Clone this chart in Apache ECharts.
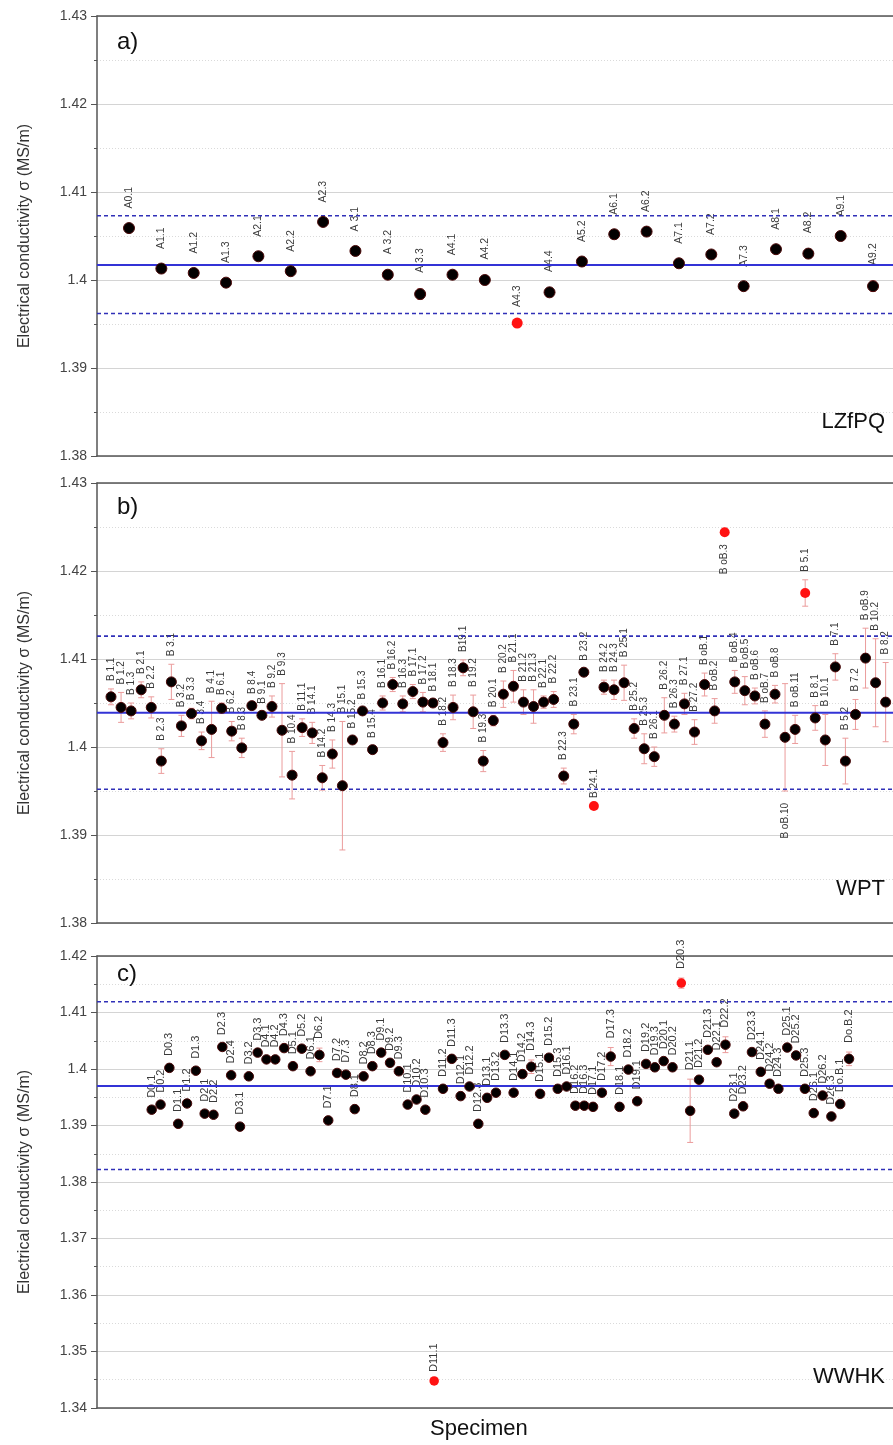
<!DOCTYPE html>
<html lang="en">
<head>
<meta charset="UTF-8">
<title>Electrical conductivity per specimen</title>
<style>
  html, body { margin: 0; padding: 0; background: #fff; }
  #main { width: 893px; height: 1445px; }
</style>
</head>
<body>
<div id="main"></div>
<script src="https://cdn.jsdelivr.net/npm/echarts@6/dist/echarts.min.js"></script>
<script>
// a) LZfPQ
const labelsA = ['A0.1','A1.1','A1.2','A1.3','A2.1','A2.2','A2.3','A 3.1','A 3.2','A 3.3','A4.1','A4.2',
  'A4.3','A4.4','A5.2','A6.1','A6.2','A7.1','A7.2','A7.3','A8.1','A8.2','A9.1','A9.2'];
const valuesA = [1.4059,1.4013,1.4008,1.3997,1.4027,1.4010,1.4066,1.4033,1.4006,1.3984,1.4006,1.4000,
  1.3951,1.3986,1.4021,1.4052,1.4055,1.4019,1.4029,1.3993,1.4035,1.4030,1.4050,1.3993];
const errA = [0.0004,0.0004,0.0004,0.0004,0.0004,0.0004,0.0004,0.0004,0.0005,0.0006,0.0004,0.0005,
  0,0.0005,0.0004,0.0004,0.0004,0.0004,0.0004,0.0004,0.0004,0.0005,0.0004,0.0006];
const refA = [1.4017, 1.4073, 1.3962];   // mean, upper, lower
const outliersA = ['A4.3'];

// b) WPT
const labelsB = ['B 1.1','B 1.2','B 1.3','B 2.1','B 2.2','B 2.3','B 3.1','B 3.2','B 3.3','B 3.4',
  'B 4.1','B 6.1','B 6.2','B 8.3','B 8.4','B 9.1','B 9.2','B 9.3','B 10.4','B 11.1',
  'B 14.1','B 14.2','B 14.3','B 15.1','B 15.2','B 15.3','B 15.4','B 16.1','B 16.2','B 16.3',
  'B 17.1','B 17.2','B 18.1','B 18.2','B 18.3','B19.1','B 19.2','B 19.3','B 20.1','B 20.2',
  'B 21.1','B 21.2','B 21.3','B 22.1','B 22.2','B 22.3','B 23.1','B 23.2','B 24.1','B 24.2',
  'B 24.3','B 25.1','B 25.2','B 25.3','B 26.1','B 26.2','B 26.3','B 27.1','B 27.2','B oB.1',
  'B oB.2','B oB.3','B oB.4','B oB.5','B oB.6','B oB.7','B oB.8','B oB.10','B oB.11','B 5.1',
  'B 8.1','B 10.1','B 7.1','B 5.2','B 7.2','B oB.9','B 10.2','B 8.2'];
const valuesB = [1.4057,1.4045,1.4041,1.4065,1.4045,1.3984,1.4074,1.4024,1.4038,1.4007,
  1.4020,1.4044,1.4018,1.3999,1.4047,1.4036,1.4046,1.4019,1.3968,1.4022,
  1.4016,1.3965,1.3992,1.3956,1.4008,1.4041,1.3997,1.4050,1.4071,1.4049,
  1.4063,1.4051,1.4050,1.4005,1.4045,1.4090,1.4040,1.3984,1.4030,1.4060,
  1.4069,1.4051,1.4046,1.4051,1.4054,1.3967,1.4026,1.4085,1.3933,1.4068,
  1.4065,1.4073,1.4021,1.3998,1.3989,1.4036,1.4026,1.4049,1.4017,1.4071,
  1.4041,1.4244,1.4074,1.4064,1.4058,1.4026,1.4060,1.4011,1.4020,1.4175,
  1.4033,1.4008,1.4091,1.3984,1.4037,1.4101,1.4073,1.4051];
const errB = [0.0009,0.0017,0.0009,0.0009,0.0012,0.0014,0.0020,0.0012,0.0006,0.0010,
  0.0032,0.0006,0.0011,0.0011,0.0004,0.0004,0.0012,0.0053,0.0027,0.0010,
  0.0012,0.0014,0.0016,0.0073,0.0004,0.0004,0.0004,0.0008,0.0008,0.0009,
  0.0008,0.0011,0.0004,0.0010,0.0014,0.0009,0.0019,0.0012,0.0006,0.0015,
  0.0018,0.0014,0.0019,0.0007,0.0009,0.0009,0.0011,0.0004,0,0.0008,
  0.0011,0.0020,0.0011,0.0017,0.0011,0.0020,0.0009,0.0012,0.0014,0.0013,
  0.0014,0,0.0013,0.0016,0.0009,0.0015,0.0010,0.0061,0.0016,0.0015,
  0.0014,0.0029,0.0015,0.0026,0.0017,0.0034,0.0050,0.0045];
const refB = [1.4039, 1.4126, 1.3952];
const outliersB = ['B 24.1','B oB.3','B 5.1'];
const belowB = ['B oB.3','B oB.10'];

// c) WWHK
const labelsC = ['D0.1','D0.2','D0.3','D1.1','D1.2','D1.3','D2.1','D2.2','D2.3','D2.4',
  'D3.1','D3.2','D3.3','D4.1','D4.2','D4.3','D5.1','D5.2','D6.1','D6.2',
  'D7.1','D7.2','D7.3','D8.1','D8.2','D8.3','D9.1','D9.2','D9.3','D10.1',
  'D10.2','D10.3','D11.1','D11.2','D11.3','D12.1','D12.2','D12.3','D13.1','D13.2',
  'D13.3','D14.1','D14.2','D14.3','D15.1','D15.2','D15.3','D16.1','D16.2','D16.3',
  'D17.1','D17.2','D17.3','D18.1','D18.2','D19.1','D19.2','D19.3','D20.1','D20.2',
  'D20.3','D21.1','D21.2','D21.3','D22.1','D22.2','D23.1','D23.2','D23.3','D24.1',
  'D24.2','D24.3','D25.1','D25.2','D25.3','D26.1','D26.2','D26.3','Do.B.1','Do.B.2'];
const valuesC = [1.3928,1.3937,1.4002,1.3903,1.3939,1.3997,1.3921,1.3919,1.4039,1.3989,
  1.3898,1.3987,1.4029,1.4017,1.4017,1.4037,1.4005,1.4036,1.3996,1.4025,
  1.3909,1.3993,1.3990,1.3929,1.3987,1.4005,1.4029,1.4011,1.3996,1.3937,
  1.3946,1.3928,1.3448,1.3965,1.4018,1.3952,1.3969,1.3903,1.3949,1.3958,
  1.4025,1.3958,1.3991,1.4004,1.3956,1.4020,1.3965,1.3969,1.3935,1.3935,
  1.3933,1.3958,1.4022,1.3933,1.3999,1.3943,1.4009,1.4003,1.4014,1.4003,
  1.4152,1.3926,1.3981,1.4034,1.4012,1.4043,1.3921,1.3934,1.4030,1.3995,
  1.3974,1.3965,1.4038,1.4024,1.3965,1.3922,1.3953,1.3916,1.3938,1.4018];
const errC = [0.0005,0.0005,0.0005,0.0005,0.0005,0.0005,0.0005,0.0005,0.0005,0.0005,
  0.0005,0.0005,0.0005,0.0005,0.0005,0.0005,0.0005,0.0005,0.0005,0.0012,
  0.0005,0.0005,0.0005,0.0005,0.0005,0.0005,0.0005,0.0005,0.0005,0.0005,
  0.0005,0.0005,0,0.0005,0.0005,0.0005,0.0005,0.0005,0.0005,0.0005,
  0.0005,0.0005,0.0005,0.0012,0.0005,0.0005,0.0005,0.0005,0.0005,0.0005,
  0.0005,0.0005,0.0016,0.0005,0.0005,0.0005,0.0005,0.0005,0.0005,0.0005,
  0.0009,0.0056,0.0005,0.0005,0.0005,0.0014,0.0005,0.0005,0.0005,0.0005,
  0.0005,0.0005,0.0005,0.0005,0.0005,0.0005,0.0005,0.0005,0.0005,0.0012];
const refC = [1.3970, 1.4119, 1.3822];
const outliersC = ['D11.1','D20.3'];

const yName = 'Electrical conductivity σ (MS/m)';
const FONT = '"Liberation Sans", Arial, Helvetica, sans-serif';

const panels = [
  { labels: labelsA, values: valuesA, errs: errA, ref: refA, outliers: outliersA, below: [],
    xMin: -0.989, xMax: 23.617, yMin: 1.38, yMax: 1.43, top: 16, height: 440, dot: 11, font: 10.5, gap: 16 },
  { labels: labelsB, values: valuesB, errs: errB, ref: refB, outliers: outliersB, below: belowB,
    xMin: -1.392, xMax: 77.73, yMin: 1.38, yMax: 1.43, top: 483, height: 440, dot: 10, font: 10, gap: 8 },
  { labels: labelsC, values: valuesC, errs: errC, ref: refC, outliers: outliersC, below: [],
    xMin: -6.197, xMax: 83.98, yMin: 1.34, yMax: 1.42, top: 956, height: 452, dot: 9.5, font: 11, gap: 9 }
];

function errLabelRenderer(p) {
  return function (params, api) {
    const i = api.value(0), v = api.value(1), e = api.value(2);
    const hi = api.coord([i, v + e]);
    const lo = api.coord([i, v - e]);
    const kids = [];
    const st = { stroke: '#eb9c9c', lineWidth: 1 };
    if (e > 0) {
      kids.push({ type: 'line', shape: { x1: hi[0], y1: hi[1], x2: lo[0], y2: lo[1] }, style: st });
      kids.push({ type: 'line', shape: { x1: hi[0] - 3, y1: hi[1], x2: hi[0] + 3, y2: hi[1] }, style: st });
      kids.push({ type: 'line', shape: { x1: lo[0] - 3, y1: lo[1], x2: lo[0] + 3, y2: lo[1] }, style: st });
    }
    const name = p.labels[params.dataIndex];
    const under = p.below.indexOf(name) >= 0;
    kids.push({
      type: 'text',
      x: hi[0],
      y: under ? lo[1] + p.gap + 4 : hi[1] - p.gap,
      rotation: Math.PI / 2,
      style: {
        text: name, fill: '#3a3a3a', fontSize: p.font, fontFamily: FONT,
        align: under ? 'right' : 'left', verticalAlign: 'middle'
      }
    });
    return { type: 'group', children: kids };
  };
}

const grid = [], xAxis = [], yAxis = [], series = [];
panels.forEach(function (p, k) {
  grid.push({ left: 97, right: 0, top: p.top, height: p.height });
  xAxis.push({
    gridIndex: k, type: 'value', min: p.xMin, max: p.xMax,
    axisLine: { show: true, onZero: false, lineStyle: { color: '#555', width: 1.5 } },
    axisTick: { show: false }, axisLabel: { show: false }, splitLine: { show: false }
  });
  xAxis.push({
    gridIndex: k, type: 'value', position: 'top', min: p.xMin, max: p.xMax,
    axisLine: { show: true, onZero: false, lineStyle: { color: '#555', width: 1.5 } },
    axisTick: { show: false }, axisLabel: { show: false }, splitLine: { show: false }
  });
  yAxis.push({
    gridIndex: k, type: 'value', min: p.yMin, max: p.yMax, interval: 0.01,
    name: yName, nameLocation: 'middle', nameGap: 64,
    nameTextStyle: { fontSize: 16, color: '#333', fontFamily: FONT },
    axisLine: { show: true, onZero: false, lineStyle: { color: '#555', width: 1.5 } },
    axisTick: { show: true, length: 6, lineStyle: { color: '#555' } },
    minorTick: { show: true, splitNumber: 2, length: 3, lineStyle: { color: '#555' } },
    axisLabel: { fontSize: 14, color: '#444', margin: 10, fontFamily: FONT,
      formatter: function (v) { return String(+v.toFixed(2)); } },
    splitLine: { show: true, lineStyle: { color: '#d4d4d4', width: 1.2 } },
    minorSplitLine: { show: true, lineStyle: { color: '#dadada', width: 1, type: [1, 2] } }
  });

  // mean (solid) and limits (dashed) as plain line series across the whole plot
  p.ref.forEach(function (r, j) {
    series.push({
      type: 'line', xAxisIndex: 2 * k, yAxisIndex: k, z: 4, silent: true,
      showSymbol: false, symbol: 'none',
      lineStyle: j === 0
        ? { color: '#3333d6', width: 2, type: 'solid' }
        : { color: '#3030b8', width: 1.6, type: [4, 3] },
      data: [[p.xMin, r], [p.xMax, r]]
    });
  });

  series.push({
    type: 'custom', xAxisIndex: 2 * k, yAxisIndex: k, z: 3,
    renderItem: errLabelRenderer(p),
    data: p.values.map(function (v, i) { return [i, v, p.errs[i]]; })
  });
  series.push({
    type: 'scatter', xAxisIndex: 2 * k, yAxisIndex: k, z: 10,
    symbolSize: p.dot,
    itemStyle: { color: '#030000', borderColor: '#4a0808', borderWidth: 1, opacity: 1 },
    data: p.values.map(function (v, i) {
      if (p.outliers.indexOf(p.labels[i]) >= 0) {
        return { value: [i, v], itemStyle: { color: '#ff1212', borderWidth: 0, opacity: 1 } };
      }
      return [i, v];
    })
  });
});

const txt = function (t, pos, size) {
  return Object.assign({ text: t, padding: 0,
    textStyle: { fontSize: size, fontWeight: 'normal', color: '#111', fontFamily: FONT } }, pos);
};

const chart = echarts.init(document.getElementById('main'));
chart.setOption({
  animation: false,
  backgroundColor: '#fff',
  title: [
    txt('a)', { left: 117, top: 30 }, 24),
    txt('b)', { left: 117, top: 495 }, 24),
    txt('c)', { left: 117, top: 962 }, 24),
    txt('LZfPQ', { right: 8, top: 411 }, 22),
    txt('WPT', { right: 8, top: 878 }, 22),
    txt('WWHK', { right: 8, top: 1366 }, 22),
    txt('Specimen', { left: 430, top: 1418 }, 22)
  ],
  grid: grid,
  xAxis: xAxis,
  yAxis: yAxis,
  series: series
});
</script>
</body>
</html>
